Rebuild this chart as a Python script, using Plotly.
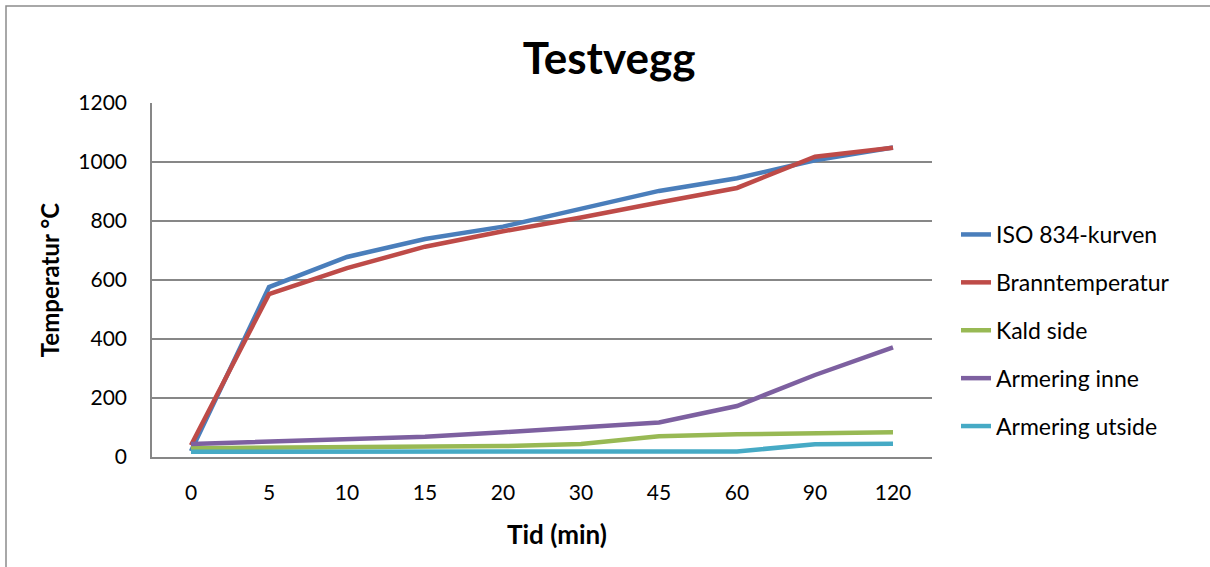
import plotly.graph_objects as go

# Time steps (minutes) shown as evenly spaced categories
tid = ["0", "5", "10", "15", "20", "30", "45", "60", "90", "120"]

iso834 = [20, 576, 678, 739, 781, 842, 902, 945, 1006, 1049]
branntemperatur = [40, 552, 640, 713, 765, 812, 863, 912, 1018, 1048]
kald_side = [30, 31, 32, 33, 37, 44, 70, 77, 80, 84]
armering_inne = [44, 52, 58, 69, 84, 100, 117, 173, 278, 372]
armering_utside = [18, 18, 18, 18, 18, 17, 17, 19, 43, 45]

series = [
    ("ISO 834-kurven", iso834, "#4A7EBB"),
    ("Branntemperatur", branntemperatur, "#BE4B48"),
    ("Kald side", kald_side, "#98B954"),
    ("Armering inne", armering_inne, "#7D60A0"),
    ("Armering utside", armering_utside, "#46AAC5"),
]

FONT = "Lato"
GRID = "#878787"

fig = go.Figure()
for name, vals, color in series:
    fig.add_trace(go.Scatter(
        x=tid, y=vals, name=name, mode="lines", legendgroup=name,
        line=dict(color=color, width=4.5),
    ))

# plot area in pixels: x 152..932, y 103..457
L, R, T, B = 152, 932, 103, 457
W, H = 1210, 567
pw, ph = R - L, B - T

fig.update_layout(
    width=W, height=H,
    margin=dict(l=L, r=W - R, t=T, b=H - B),
    paper_bgcolor="white", plot_bgcolor="white",
    font=dict(family=FONT, color="black", size=21),
    title=dict(text="<b>Testvegg</b>", x=609 / W, xanchor="center",
               y=1 - 59 / H, yanchor="middle",
               font=dict(family=FONT, size=44, color="black")),
    showlegend=True,
    legend=dict(x=(956 - L) / pw, xanchor="left", y=(B - 213) / ph, yanchor="top",
                font=dict(family=FONT, size=23, color="black"),
                tracegroupgap=15, bgcolor="rgba(0,0,0,0)"),
    xaxis=dict(type="category", range=[-0.5, 9.5], showgrid=False,
               showline=True, linecolor=GRID, linewidth=1.5, ticks="",
               tickfont=dict(family=FONT, size=21), ticklabelstandoff=16),
    yaxis=dict(range=[0, 1200], dtick=200, showgrid=True, gridcolor=GRID,
               gridwidth=1.5, showline=True, linecolor=GRID, linewidth=1.5,
               ticks="", zeroline=False, tickfont=dict(family=FONT, size=21),
               ticklabelstandoff=19,
               title=dict(text="<b>Temperatur °C</b>", standoff=12,
                          font=dict(family=FONT, size=24))),
)

# x-axis title
fig.add_annotation(text="<b>Tid (min)</b>", xref="paper", yref="paper",
                   x=(557 - L) / pw, y=(B - 534) / ph, xanchor="center",
                   yanchor="middle", showarrow=False,
                   font=dict(family=FONT, size=26, color="black"))

# outer chart frame
fig.add_shape(type="rect", xref="paper", yref="paper",
              x0=(6 - L) / pw, x1=(W + 10 - L) / pw,
              y0=(B - (H + 10)) / ph, y1=(B - 6) / ph,
              line=dict(color="#8C8C8C", width=1.5), fillcolor="rgba(0,0,0,0)",
              layer="below")

fig.write_html("out.html")
